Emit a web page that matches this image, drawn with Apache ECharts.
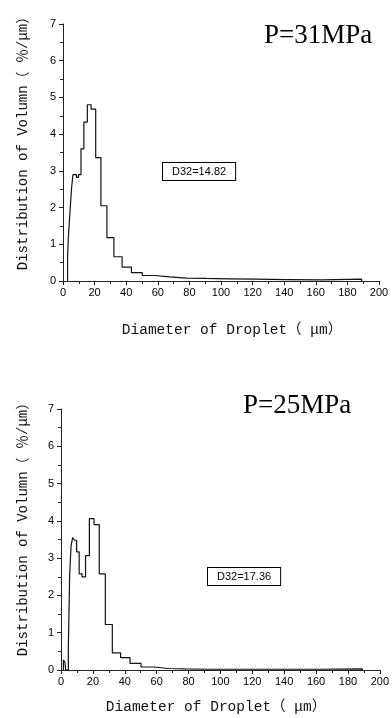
<!DOCTYPE html>
<html>
<head>
<meta charset="utf-8">
<script src="https://cdn.jsdelivr.net/npm/echarts@6/dist/echarts.min.js"></script>
<style>html,body{margin:0;padding:0;background:#fff}#c{width:392px;height:718px}</style>
</head>
<body>
<div id="c"></div>
<script>
// Bin edges (μm) and volume distribution values (%/μm)
const edges31 = [2.9, 3.4, 4.0, 4.6, 5.4, 6.3, 7.3, 8.5, 9.8, 11.4, 13.2, 15.4, 17.8, 20.7, 24.0, 27.8, 32.2, 37.4, 43.3, 50.2, 58.2, 67.5, 78.2, 90.7, 105.2, 122, 141.5, 164, 189];
const vol31   = [0.65, 1.2, 1.6, 2.0, 2.52, 2.9, 2.9, 2.82, 2.9, 3.6, 4.33, 4.8, 4.68, 3.36, 2.05, 1.18, 0.66, 0.38, 0.23, 0.15, 0.11, 0.08, 0.07, 0.06, 0.05, 0.04, 0.03, 0.05];

const edges25 = [1.5, 1.9, 2.2, 2.5, 2.9, 3.4, 4.0, 4.6, 5.4, 6.3, 7.3, 8.5, 9.8, 11.4, 13.2, 15.4, 17.8, 20.7, 24.0, 27.8, 32.2, 37.4, 43.3, 50.2, 58.2, 67.5, 78.2, 90.7, 105.2, 122, 141.5, 163, 189];
const vol25   = [0.27, 0.25, 0.22, 0.2, 0, 0, 0, 0.57, 2.5, 3.33, 3.55, 3.48, 3.17, 2.58, 2.5, 3.07, 4.06, 3.9, 2.58, 1.22, 0.46, 0.33, 0.18, 0.08, 0.04, 0.03, 0.02, 0.02, 0.02, 0.02, 0.02, 0.03];

const xTicks = [0, 20, 40, 60, 80, 100, 120, 140, 160, 180, 200];
const yTicks = [0, 1, 2, 3, 4, 5, 6, 7];
const titles = ['P=31MPa', 'P=25MPa'];
const d32 = ['D32=14.82', 'D32=17.36'];
const xTitle = 'Diameter of Droplet（ μm）';
const yTitle = 'Distribution of Volumn（ ％/μm）';

function stepData(edges, vals) {
  const d = [[edges[0], 0]];
  for (let i = 0; i < vals.length; i++) d.push([edges[i], vals[i]]);
  d.push([edges[edges.length - 1], 0]);
  return d;
}

const axisCol = '#222';
const lblFont = 'Liberation Sans, Arial, sans-serif';
const monoFont = '"Liberation Mono", "Noto Sans CJK SC", monospace';

function xAxisCfg(idx) {
  return {
    gridIndex: idx, type: 'value', min: xTicks[0], max: xTicks[xTicks.length - 1], interval: 20,
    axisLine: { onZero: false, lineStyle: { color: axisCol, width: 1 } },
    axisTick: { show: true, inside: false, length: 4, lineStyle: { color: axisCol } },
    minorTick: { show: true, splitNumber: 2, length: 3, lineStyle: { color: axisCol } },
    splitLine: { show: false },
    axisLabel: { color: '#000', fontSize: 11, fontFamily: lblFont, margin: 6 }
  };
}
function yAxisCfg(idx) {
  return {
    gridIndex: idx, type: 'value', min: yTicks[0], max: yTicks[yTicks.length - 1], interval: 1,
    axisLine: { show: true, lineStyle: { color: axisCol, width: 1 } },
    axisTick: { show: true, inside: false, length: 4, lineStyle: { color: axisCol } },
    minorTick: { show: true, splitNumber: 2, length: 3, lineStyle: { color: axisCol } },
    splitLine: { show: false },
    axisLabel: { color: '#000', fontSize: 11, fontFamily: lblFont, margin: 7 }
  };
}

const chart = echarts.init(document.getElementById('c'), null, { renderer: 'canvas' });
chart.setOption({
  backgroundColor: '#fff',
  animation: false,
  grid: [
    { left: 63, top: 24, width: 316, height: 257 },
    { left: 61, top: 409, width: 320, height: 261 }
  ],
  xAxis: [xAxisCfg(0), xAxisCfg(1)],
  yAxis: [yAxisCfg(0), yAxisCfg(1)],
  series: [
    { type: 'line', xAxisIndex: 0, yAxisIndex: 0, step: 'end', symbol: 'none',
      lineStyle: { color: '#111', width: 1.2 }, data: stepData(edges31, vol31) },
    { type: 'line', xAxisIndex: 1, yAxisIndex: 1, step: 'end', symbol: 'none',
      lineStyle: { color: '#111', width: 1.2 }, data: stepData(edges25, vol25) }
  ],
  graphic: [
    { type: 'text', left: 264, top: 22, style: { text: titles[0], font: '27px "Liberation Serif", "Times New Roman", serif', fill: '#000' } },
    { type: 'text', left: 243, top: 392, style: { text: titles[1], font: '27px "Liberation Serif", "Times New Roman", serif', fill: '#000' } },
    { type: 'text', left: 162, top: 162, style: { text: d32[0], font: '11px Liberation Sans, Arial, sans-serif', fill: '#000',
        backgroundColor: '#fff', borderColor: '#000', borderWidth: 1, padding: [3, 9, 3, 9] } },
    { type: 'text', left: 207, top: 567, style: { text: d32[1], font: '11px Liberation Sans, Arial, sans-serif', fill: '#000',
        backgroundColor: '#fff', borderColor: '#000', borderWidth: 1, padding: [3, 9, 3, 9] } },
    { type: 'text', x: 232, y: 330, style: { text: xTitle, font: '14.5px ' + monoFont, fill: '#111', align: 'center', verticalAlign: 'middle' } },
    { type: 'text', x: 216, y: 707, style: { text: xTitle, font: '14.5px ' + monoFont, fill: '#111', align: 'center', verticalAlign: 'middle' } },
    { type: 'text', x: 23, y: 140, rotation: Math.PI / 2, style: { text: yTitle, font: '14px ' + monoFont, fill: '#111', align: 'center', verticalAlign: 'middle' } },
    { type: 'text', x: 23, y: 526, rotation: Math.PI / 2, style: { text: yTitle, font: '14px ' + monoFont, fill: '#111', align: 'center', verticalAlign: 'middle' } }
  ]
});
</script>
</body>
</html>
